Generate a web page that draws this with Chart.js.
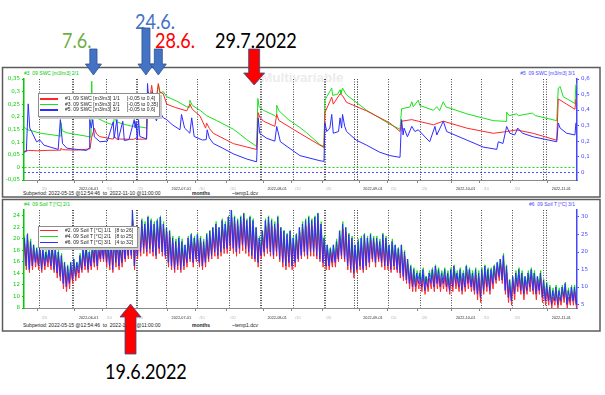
<!DOCTYPE html>
<html>
<head>
<meta charset="utf-8">
<title>Multivariable</title>
<script src="https://cdn.jsdelivr.net/npm/chart.js@4.4.1/dist/chart.umd.min.js"></script>
<style>
  body { margin: 0; background: #fff; }
  #page { position: relative; width: 605px; height: 395px; overflow: hidden; font-family: "Liberation Sans", Arial, sans-serif; }
  #page canvas { position: absolute; left: 0; z-index: 1; }
  .txt { position: absolute; white-space: pre; font-size: 5px; line-height: 5px; color: #222; z-index: 0; }
  .note { position: absolute; white-space: nowrap; font-family: Lato, sans-serif; font-size: 21px; line-height: 21px; transform: scaleX(0.86); transform-origin: 0 0; z-index: 0; }
  .mark { position: absolute; left: 261px; top: 71px; font: bold 13.5px/13.5px "Liberation Sans", Arial, sans-serif; color: #ececec; z-index: 0; }
  .legend { position: absolute; background: #fff; border: 1px solid #8c8c8c; box-shadow: 2px 2px 0 #cacaca; z-index: 2; }
  .legend .row { position: absolute; left: 0; right: 0; height: 5px; font-size: 5px; line-height: 5px; white-space: nowrap; color: #222; }
  .legend .sw { position: absolute; left: 1px; top: 2px; width: 18px; height: 1.4px; }
  .legend .nm { position: absolute; left: 26px; top: 0; }
  .legend .rg { position: absolute; top: 0; }
</style>
</head>
<body>
<div id="page">
  <div class="mark">Multivariable</div>

  <div class="note" style="left:62px;top:28.5px;color:#70ad47">7.6.</div>
  <div class="note" style="left:135px;top:9.5px;color:#4472c4">24.6.</div>
  <div class="note" style="left:155px;top:28.5px;color:#ff0000">28.6.</div>
  <div class="note" style="left:215px;top:28.5px;color:#000">29.7.2022</div>
  <div class="note" style="left:105px;top:359.5px;color:#000">19.6.2022</div>

  <div class="txt" style="left:24px;top:71px;color:#00c800">#3  09 SWC [m3/m3] 2/1</div>
  <div class="txt" style="right:30px;top:71px;color:#4646ff">#5  09 SWC [m3/m3] 3/1</div>
  <div class="txt" style="left:24px;top:202px;color:#00c800">#4  09 Soil T [°C] 2/1</div>
  <div class="txt" style="right:30px;top:202px;color:#4646ff">#6  09 Soil T [°C] 3/1</div>

  <div class="txt" style="left:23px;top:190.5px">Subperiod: 2022-05-15 @12:54:46  to  2022-11-10 @11:00:00</div>
  <div class="txt" style="left:192px;top:190.5px;font-weight:bold">months</div>
  <div class="txt" style="left:232px;top:190.5px">~temp1.dcv</div>
  <div class="txt" style="left:23px;top:322.5px">Subperiod: 2022-05-15 @12:54:46  to  2022-11-10 @11:00:00</div>
  <div class="txt" style="left:192px;top:322.5px;font-weight:bold">months</div>
  <div class="txt" style="left:232px;top:322.5px">~temp1.dcv</div>

  <canvas id="swc" width="605" height="200" style="top:0"></canvas>
  <canvas id="temp" width="605" height="198" style="top:197px"></canvas>

  <div class="legend" id="swcLegend" style="left:38px;top:93px;width:120px;height:22px"></div>
  <div class="legend" id="tempLegend" style="left:38px;top:226px;width:98px;height:20px"></div>
</div>

<script>
// x axis = days since 2022-05-15 00:00, subperiod 2022-05-15 12:54 .. 2022-11-10 11:00
const xMin = 0.538, xMax = 179.458;

const labelDays = [5, 17, 26, 36, 47, 56, 66, 78, 87, 97, 109, 118, 128, 139, 148, 158, 170];
const labelText = ['/20', '2022-06-01', '/10', '/20', '2022-07-01', '/10', '/20', '2022-08-01', '/10', '/20',
  '2022-09-01', '/10', '/20', '2022-10-01', '/10', '/20', '2022-11-01'];
// dotted vertical lines of the logger software
const gridDays = [5.7, 16.1, 16.7, 27.1, 36.8, 37.4, 46.8, 56.8, 66.9, 76.9, 77.5, 87.6, 97.9, 98.2,
  107.6, 108.3, 108.6, 118.6, 128.7, 139.0, 148.7, 158.7, 168.7, 169.7];

const swcLeftTicks = [-0.05, 0, 0.05, 0.1, 0.15, 0.2, 0.25, 0.3, 0.35];
const swcRightTicks = [0, 0.1, 0.2, 0.3, 0.4, 0.5, 0.6];
const tLeftTicks = [8, 10, 12, 14, 16, 18, 20, 22, 24];
const tRightTicks = [5, 10, 15, 20, 25, 30];

const swcNames = ['#1. 09 SWC [m3/m3] 1/1', '#3. 09 SWC [m3/m3] 2/1', '#5. 09 SWC [m3/m3] 3/1'];
const swcRanges = ['[-0,05 to 0,4]', '[-0,05 to 0,35]', '[-0,05 to 0,6]'];
const tNames = ['#2. 09 Soil T [°C] 1/1', '#4. 09 Soil T [°C] 2/1', '#6. 09 Soil T [°C] 3/1'];
const tRanges = ['[8 to 26]', '[8 to 25]', '[4 to 32]'];

// arrows: 7.6., 24.6., 28.6., 29.7.2022 (top) and 19.6.2022 (bottom)
const topArrowDays = [23, 40, 44, 75];
const bottomArrowDays = [35];

// soil water content [m3/m3], [day, value]
const swc1 = [[0.54,0.077],[2,0.082],[5,0.08],[8,0.082],[12.2,0.083],[12.5,0.092],[13,0.085],[17,0.083],[20,0.086],
  [21.9,0.089],[22.4,0.138],[23.3,0.181],[24,0.155],[25.1,0.143],[29.4,0.132],[29.9,0.143],[30.4,0.133],[35.9,0.131],
  [37,0.138],[37.4,0.132],[40.2,0.132],[40.7,0.342],[41.2,0.303],[41.85,0.372],[42.3,0.326],[43.5,0.32],[44,0.38],
  [44.5,0.342],[45.6,0.334],[46.7,0.288],[49.5,0.273],[53.2,0.258],[54.2,0.288],[55,0.265],[57.5,0.235],[59.3,0.181],
  [59.6,0.204],[60.5,0.18],[61.8,0.158],[68.3,0.112],[72.6,0.097],[75.8,0.086],[76.3,0.25],[76.8,0.23],[78,0.212],
  [81.7,0.189],[82.3,0.242],[83,0.215],[89.8,0.158],[96.3,0.105],[97.6,0.095],[97.9,0.25],[100.1,0.319],[100.6,0.288],
  [102.8,0.334],[103.6,0.326],[104.9,0.296],[111.4,0.258],[118.9,0.204],[122.2,0.166],[122.7,0.212],[126,0.219],
  [128.1,0.212],[133,0.196],[136.2,0.212],[143.8,0.181],[152.4,0.158],[156.7,0.166],[159.9,0.173],[165.3,0.158],
  [172.9,0.127],[173.4,0.311],[176.1,0.288],[178.8,0.265],[179.1,0.311],[179.46,0.305]];

const swc3 = [[0.54,0.16],[1.5,0.15],[3.5,0.143],[6,0.135],[9,0.13],[12.3,0.124],[12.5,0.178],[12.9,0.145],[14.4,0.137],
  [17.6,0.13],[20,0.125],[22.2,0.12],[22.45,0.341],[22.7,0.21],[23.3,0.2],[25.1,0.19],[27,0.178],[29.5,0.168],[29.8,0.21],
  [30.4,0.18],[33.8,0.168],[35.9,0.162],[36.8,0.168],[37.2,0.162],[40.2,0.156],[40.6,0.3],[41,0.29],[41.85,0.3],
  [42.5,0.285],[43.6,0.295],[44,0.328],[44.5,0.294],[45.6,0.3],[46.7,0.28],[50,0.262],[53.2,0.24],[54,0.238],[54.2,0.266],
  [55,0.245],[57.5,0.226],[59.6,0.205],[62.9,0.185],[68.3,0.151],[72.6,0.11],[75.8,0.083],[76.2,0.273],[76.6,0.24],
  [78,0.226],[81.7,0.205],[82.1,0.2],[82.3,0.246],[83,0.225],[86,0.19],[89.8,0.158],[92,0.137],[96.3,0.09],[97.6,0.083],
  [97.9,0.266],[98.5,0.28],[100.1,0.314],[100.4,0.285],[102,0.29],[102.8,0.307],[103.1,0.29],[103.6,0.314],[104.9,0.287],
  [111.4,0.226],[118.9,0.171],[122.2,0.151],[122.7,0.232],[125.4,0.239],[126,0.26],[126.5,0.24],[128.1,0.266],
  [128.6,0.245],[133,0.226],[134.1,0.24],[135,0.225],[136.2,0.26],[137,0.24],[143.8,0.212],[152.4,0.185],[156.5,0.182],
  [156.7,0.219],[157.5,0.205],[159.9,0.212],[160.5,0.205],[165,0.215],[166,0.205],[172.9,0.185],[173.4,0.314],
  [174,0.32],[175,0.28],[178.8,0.253],[179.1,0.328],[179.46,0.33]];

const swc5 = [[0.54,0.129],[1.3,0.134],[1.9,0.44],[2.4,0.284],[3,0.262],[4.6,0.196],[5.7,0.207],[7,0.174],[9,0.162],
  [11.6,0.147],[12.3,0.339],[13,0.185],[14.4,0.155],[17.6,0.147],[20.8,0.14],[21.6,0.155],[21.8,0.339],[22.3,0.284],
  [22.8,0.339],[23.3,0.228],[25.1,0.196],[27.5,0.2],[29.4,0.325],[29.7,0.22],[30.6,0.339],[31,0.207],[32.5,0.328],
  [33,0.204],[34.5,0.21],[36.2,0.339],[36.5,0.284],[36.8,0.328],[37.2,0.207],[37.6,0.339],[38,0.23],[40.2,0.214],
  [40.5,0.571],[40.9,0.461],[41.5,0.405],[42,0.515],[42.6,0.372],[43.4,0.33],[44.2,0.4],[45.6,0.35],[46.7,0.339],
  [48.5,0.306],[51,0.273],[51.5,0.372],[52.5,0.284],[54.2,0.251],[54.8,0.35],[55.6,0.23],[58.3,0.207],[59.5,0.21],
  [59.8,0.273],[60.5,0.22],[61.8,0.185],[64.8,0.155],[68.3,0.118],[72.6,0.085],[75.8,0.067],[76.3,0.35],[76.8,0.25],
  [79.1,0.218],[81.7,0.2],[82.3,0.295],[83.5,0.196],[89.8,0.107],[96.3,0.074],[97.6,0.07],[97.9,0.317],[98.5,0.262],
  [99.5,0.284],[100.1,0.372],[100.6,0.251],[102.3,0.262],[102.8,0.35],[103.3,0.284],[103.6,0.372],[104.3,0.295],
  [104.9,0.262],[108,0.207],[111.4,0.174],[115.6,0.129],[118.9,0.107],[122.2,0.096],[122.7,0.339],[123.2,0.24],
  [123.5,0.284],[124.6,0.228],[126,0.295],[127,0.262],[128.1,0.273],[131.8,0.196],[133.5,0.295],[134.1,0.24],
  [136.2,0.328],[137.3,0.262],[143.8,0.207],[149.1,0.162],[153.5,0.147],[154,0.196],[155.5,0.185],[156.7,0.295],
  [157.7,0.251],[159.3,0.24],[160.3,0.284],[161.8,0.251],[165.3,0.228],[172.9,0.196],[173.4,0.317],[174,0.284],
  [176.1,0.251],[178.8,0.24],[179.1,0.317],[179.46,0.31]];

// soil temperature [°C], daily min / max, day 0 = 2022-05-15
const t2Min = [
  14.5,15,14.5,15,15.5,15,14.5,15,15.5,15, 14.5,13.5,13,11.5,11,11.5,12.5,13,13.5,14.5,
  15,14.5,15,15.5,15,16.5,16.5,15.5,15,14.5, 15.5,15,15.5,16.5,17,17,15,17,17.5,18,
  17.5,18,17.5,17,18,17.5,17,15.5,15,14.5, 15,14.5,15,15.5,16.5,15.5,16.5,15.5,15,15.5,
  16.5,17,17.5,17,17.5,18,18,18.5,18,17.5, 18,18.5,18,17.5,17,16.5,15.5,17,17.5,18,
  17.5,17,17.5,16.5,15.5,15,15.5,15,15.5,16.5, 17,17.5,17,17.5,17.5,17,16.5,15.5,15,15,
  15.5,15.5,16.5,17,16.5,15,14.5,13.5,14.5,15, 14.5,15,15.5,16.5,15.5,16.5,15.5,15,15,14.5,
  15,14.5,13.5,13,12.5,11.5,11,11,11.5,11, 10.5,11,11.5,11,11.5,11,11.5,11,10.5,11,
  11.5,11,10.5,11,11.5,11,10.5,9.5,9,10.5, 11,10.5,11.5,12.5,13,12.5,10.5,9,8.5,9.5,
  11,10.5,9.5,10.5,11,10.5,9.5,10.5,9,8.5, 8.5,8,8.5,8,8.5,9,8,8.5,8.5,8];
const t2Max = [
  20,20.5,19,18.5,18,18.5,18,17.5,18,18.5, 18,17.5,16.5,15.5,14.5,15.5,16,15.5,16.5,18,
  18.5,17.5,18.5,19,18.5,19,20,19,20,20.5, 20,18.5,20,20.5,22,24,20.5,22,23,22.5,
  23.5,23,22.5,23,23.5,22.5,22,21,20,19, 20,19,18.5,20,20.5,20,20.5,20,19,20.5,
  21,22,22.5,22,23,22.5,23.5,24.5,23.5,23, 23.5,24.5,23,23.5,23,22,20,21,23,23.5,
  23,22.5,23.5,22,21,20.5,21,20,20.5,22, 22.5,23,23.5,23,23.5,24,22.5,20,18.5,18,
  18.5,19,21,22.5,22,20.5,20,18.5,19,20, 20.5,20,20.5,20,20,19,20.5,20,18.5,19,
  18.5,18,18.5,17.5,16,14.5,14,13.5,13.5,14, 13,13.5,14,14.5,14,13.5,14,13.5,14,14.5,
  13.5,14,13.5,14.5,14,13.5,14,13.5,14,14.5, 14,14,14.5,15.5,16,16.5,14.5,12,13,13.5,
  14,13.5,13,13.5,14,13.5,13,13.5,12,11.5, 11,10,11,10,11,11.5,10,11,11,10];
const t4Min = [
  15.5,16,15.5,16,16.5,16,15.5,16,16.5,16, 15.5,15,14,13,12.5,13,13.5,14,15,15.5,
  16,15.5,16,16.5,16,17,17,16.5,16,15.5, 16.5,16,16.5,17,18,18,16,18,18.5,19,
  18.5,19,18.5,18,19,18.5,18,16.5,16,15.5, 16,15.5,16,16.5,17,16.5,17,16.5,16,16.5,
  17,18,18.5,18,18.5,19,19,19.5,19,18.5, 19,19.5,19,18.5,18,17,16.5,18,18.5,19,
  18.5,18,18.5,17,16.5,16,16.5,16,16.5,17, 18,18.5,18,18.5,18.5,18,17,16.5,16,16,
  16.5,16.5,17,18,17,16,15.5,15,15.5,16, 15.5,16,16.5,17,16.5,17,16.5,16,16,15.5,
  16,15.5,15,14,13.5,13,12.5,12.5,13,12.5, 12,12.5,13,12.5,13,12.5,13,12.5,12,12.5,
  13,12.5,12,12.5,13,12.5,12,11,10.5,12, 12.5,12,13,13.5,14,13.5,12,10.5,10,11,
  12.5,12,11,12,12.5,12,11,12,10.5,10, 9.5,9,9.5,8.5,9,10,8.5,9,9,8.5];
const t4Max = [
  20.5,21,20,19,18.5,19,18.5,18,18.5,19, 18.5,18,17.5,16,15.5,16,16.5,16,17.5,18.5,
  19,18,19,20,19,20,20.5,20,20.5,21, 20.5,19,20.5,21,22,24.5,21,22,23.5,23,
  24,23.5,23,23.5,24,23,22,21.5,20.5,20, 20.5,20,19,20.5,21,20.5,21,20.5,20,21,
  21.5,22,23,22,23.5,23,24,25,24,23.5, 24,24.5,23.5,24,23.5,22,20.5,21.5,23.5,24,
  23.5,23,24,22,21.5,21,21.5,20.5,21,22, 23,23.5,24,23.5,24,24.5,23,20.5,19,18.5,
  19,20,21.5,23,22,21,20.5,19,20,20.5, 21,20.5,21,20.5,20.5,20,21,20.5,19,20,
  19,18.5,19,18,16.5,15.5,15,14.5,14.5,15, 13.5,14.5,15,15.5,15,14.5,15,14.5,15,15.5,
  14.5,15,14.5,15.5,15,14.5,15,14.5,15,15.5, 15,15,15.5,16,16.5,17.5,15.5,13,13.5,14.5,
  15,14.5,13.5,14.5,15,14.5,13.5,14.5,13,12.5, 12,11.5,12,11.5,12,12.5,11.5,12,12,11.5];
const t6Min = [
  15,16,15,16,17,16,15,16,17,16, 15,14,13,11,10,11,12,13,14,15,
  16,15,16,17,16,18,18,17,16,15, 17,16,17,18,19,19,16,19,20,21,
  20,21,20,19,21,20,19,17,16,15, 16,15,16,17,18,17,18,17,16,17,
  18,19,20,19,20,21,21,22,21,20, 21,22,21,20,19,18,17,19,20,21,
  20,19,20,18,17,16,17,16,17,18, 19,20,19,20,20,19,18,17,16,16,
  17,17,18,19,18,16,15,14,15,16, 15,16,17,18,17,18,17,16,16,15,
  16,15,14,13,12,11,10,10,11,10, 9,10,11,10,11,10,11,10,9,10,
  11,10,9,10,11,10,9,8,7,9, 10,9,11,12,13,12,9,7,6,8,
  10,9,8,9,10,9,8,9,7,6, 6,5,6,5,6,7,5,6,6,5];
const t6Max = [
  24,25,23,22,21,22,21,20,21,22, 21,20,19,17,16,17,18,17,19,21,
  22,20,22,23,22,23,24,23,24,25, 24,22,24,25,27,32,25,27,29,28,
  30,29,28,29,30,28,27,26,24,23, 24,23,22,24,25,24,25,24,23,25,
  26,27,28,27,29,28,30,32,30,29, 30,31,29,30,29,27,24,26,29,30,
  29,28,30,27,26,25,26,24,25,27, 28,29,30,29,30,31,28,24,22,21,
  22,23,26,28,27,25,24,22,23,24, 25,24,25,24,24,23,25,24,22,23,
  22,21,22,20,18,16,15,14,14,15, 13,14,15,16,15,14,15,14,15,16,
  14,15,14,16,15,14,15,14,15,16, 15,15,16,17,18,19,16,12,13,14,
  15,14,13,14,15,14,13,14,12,11, 10,9,10,9,10,11,9,10,10,9];

const RED = 'rgb(255,40,40)';
const GREEN = 'rgb(25,225,25)';
const BLUE = 'rgb(45,45,255)';
const AX_GREEN = 'rgb(0,205,0)';
const AX_BLUE = 'rgb(70,70,255)';

function dailyPoints(lo, hi, tLo, tHi) {
  const pts = [];
  lo.forEach((v, d) => {
    pts.push({ x: d + tLo, y: v });
    pts.push({ x: d + tHi, y: hi[d] });
  });
  return pts;
}

function series(label, data, axis, color, order) {
  return { label, data, xAxisID: 'x', yAxisID: axis, borderColor: color, backgroundColor: color,
    borderWidth: 1, pointRadius: 0, tension: 0, fill: false, order };
}

const comma = v => String(+v.toFixed(2)).replace('.', ',');

function xScales(labelPad) {
  return {
    x: {
      type: 'linear', position: 'bottom', min: xMin, max: xMax,
      afterBuildTicks: s => { s.ticks = labelDays.map(v => ({ value: v })); },
      afterFit: s => { s.height = 20; },
      grid: { drawOnChartArea: false, tickLength: 3, color: '#888' },
      border: { color: '#8a8a8a', width: 1 },
      ticks: {
        autoSkip: false, maxRotation: 0, align: 'start', labelOffset: 4, padding: labelPad,
        font: { family: 'Liberation Sans', size: 3.8 },
        color: c => labelText[c.index].startsWith('/') ? '#b4b4b4' : '#333',
        callback: (v, i) => labelText[i]
      }
    },
    xg: {
      type: 'linear', position: 'top', min: xMin, max: xMax,
      afterBuildTicks: s => { s.ticks = gridDays.map(v => ({ value: v })); },
      afterFit: s => { s.height = 0; },
      ticks: { display: false },
      grid: { color: '#4a4a4a', lineWidth: 1, drawTicks: false },
      border: { display: false, dash: [1, 1.5] }
    }
  };
}

function yAxis(pos, min, max, tickList, color, fmt, zeroColor) {
  return {
    type: 'linear', position: pos, min, max,
    afterBuildTicks: s => { s.ticks = tickList.map(v => ({ value: v })); },
    afterFit: s => { s.width = pos === 'left' ? 24 : 28; },
    grid: {
      color: c => (zeroColor && c.tick && c.tick.value === 0) ? zeroColor : 'rgba(0,0,0,0)',
      tickColor: color, tickLength: 2, lineWidth: 1
    },
    border: { color, width: 1.5, dash: [2, 2] },
    ticks: { color, padding: 2, font: { family: 'DejaVu Sans', size: 5.5 }, callback: fmt }
  };
}

function drawArrow(ctx, x, a) {
  ctx.beginPath();
  ctx.moveTo(x - a.sw, a.base);
  ctx.lineTo(x + a.sw, a.base);
  ctx.lineTo(x + a.sw, a.head);
  ctx.lineTo(x + a.hw, a.head);
  ctx.lineTo(x, a.tip);
  ctx.lineTo(x - a.hw, a.head);
  ctx.lineTo(x - a.sw, a.head);
  ctx.closePath();
  ctx.fillStyle = a.fill;
  ctx.fill();
  ctx.strokeStyle = '#2f528f';
  ctx.lineWidth = 0.8;
  ctx.stroke();
}

// panel frame + annotation arrows, placed with the x scale
function panelPlugin(box, arrows) {
  return {
    id: 'panel',
    beforeDraw(chart) {
      const ctx = chart.ctx;
      ctx.save();
      ctx.strokeStyle = '#5c5c5c';
      ctx.lineWidth = 1.5;
      ctx.strokeRect(box[0], box[1], box[2], box[3]);
      ctx.restore();
    },
    afterDraw(chart) {
      const ctx = chart.ctx;
      const xs = chart.scales.x;
      ctx.save();
      arrows.forEach(a => drawArrow(ctx, xs.getPixelForValue(a.day), a));
      ctx.restore();
    }
  };
}

const topArrows = [
  { day: topArrowDays[0], base: 49, head: 64, tip: 75, sw: 3.6, hw: 8, fill: '#4472c4' },
  { day: topArrowDays[1], base: 28, head: 64, tip: 75, sw: 4, hw: 8, fill: '#4472c4' },
  { day: topArrowDays[2], base: 49, head: 64, tip: 75, sw: 4, hw: 8, fill: '#4472c4' },
  { day: topArrowDays[3], base: 49, head: 73, tip: 85, sw: 5.5, hw: 10.5, fill: '#ff0000' }
];
const bottomArrows = [
  { day: bottomArrowDays[0], base: 157, head: 120, tip: 107, sw: 5.5, hw: 10.5, fill: '#ff0000' }
];

const toXY = arr => arr.map(p => ({ x: p[0], y: p[1] }));

const swcChart = new Chart(document.getElementById('swc'), {
  type: 'line',
  data: {
    datasets: [
      series(swcNames[0], toXY(swc1), 'yR', RED, 1),
      series(swcNames[1], toXY(swc3), 'yL', GREEN, 2),
      series(swcNames[2], toXY(swc5), 'yB', BLUE, 0)
    ]
  },
  options: {
    responsive: false,
    animation: false,
    layout: { padding: { top: 79, left: 0, right: 0, bottom: 0 } },
    plugins: { legend: { display: false }, tooltip: { enabled: false } },
    scales: Object.assign(xScales(4), {
      yL: yAxis('left', -0.05, 0.35, swcLeftTicks, AX_GREEN, comma, 'rgba(0,215,0,0.9)'),
      yB: yAxis('right', -0.05, 0.6, swcRightTicks, AX_BLUE, comma, 'rgba(60,60,255,0.9)'),
      yR: { type: 'linear', display: false, min: -0.05, max: 0.4 }
    })
  },
  plugins: [panelPlugin([2.5, 67.5, 597.5, 129.5], topArrows)]
});

const tempChart = new Chart(document.getElementById('temp'), {
  type: 'line',
  data: {
    datasets: [
      series(tNames[0], dailyPoints(t2Min, t2Max, 0.3, 0.72), 'yR', RED, 1),
      series(tNames[1], dailyPoints(t4Min, t4Max, 0.3, 0.7), 'yL', GREEN, 2),
      series(tNames[2], dailyPoints(t6Min, t6Max, 0.22, 0.6), 'yB', BLUE, 0)
    ]
  },
  options: {
    responsive: false,
    animation: false,
    layout: { padding: { top: 13, left: 0, right: 0, bottom: 67 } },
    plugins: { legend: { display: false }, tooltip: { enabled: false } },
    scales: Object.assign(xScales(5), {
      yL: yAxis('left', 8, 25, tLeftTicks, AX_GREEN, v => String(v), null),
      yB: yAxis('right', 4, 32, tRightTicks, AX_BLUE, v => String(v), null),
      yR: { type: 'linear', display: false, min: 8, max: 26 }
    })
  },
  plugins: [panelPlugin([2.5, 2.5, 597.5, 131.5], bottomArrows)]
});

// legend boxes like the logger software
function buildLegend(el, names, ranges, colors, rowTops, rangeLeft) {
  names.forEach((name, i) => {
    const row = document.createElement('div');
    row.className = 'row';
    row.style.top = rowTops[i] + 'px';
    row.innerHTML = '<span class="sw" style="background:' + colors[i] + '"></span>' +
      '<span class="nm">' + name + '</span>' +
      '<span class="rg" style="left:' + rangeLeft + 'px">' + ranges[i] + '</span>';
    el.appendChild(row);
  });
}
buildLegend(document.getElementById('swcLegend'), swcNames, swcRanges, [RED, GREEN, BLUE], [2.2, 7.7, 13.2], 88);
buildLegend(document.getElementById('tempLegend'), tNames, tRanges, [RED, GREEN, BLUE], [0.8, 6.8, 12.8], 76);
</script>
</body>
</html>
